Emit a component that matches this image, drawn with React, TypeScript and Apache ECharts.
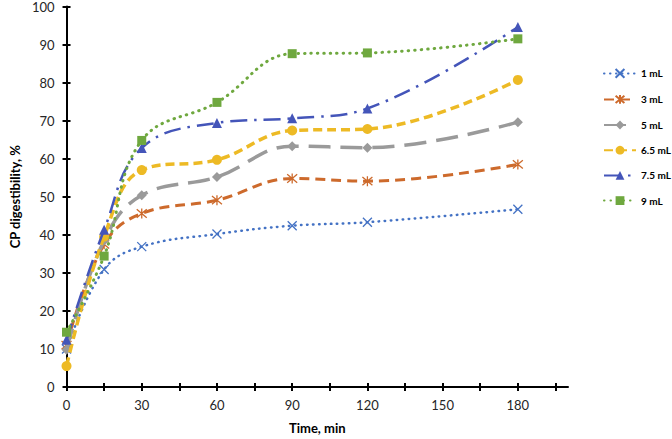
import React, { useEffect, useRef } from "react";
import * as echarts from "echarts";

const times = [0, 15, 30, 60, 90, 120, 180];
const seriesNames = ["1 mL", "3 mL", "5 mL", "6.5 mL", "7.5 mL", "9 mL"];
const v1 = [10.0, 30.9, 36.9, 40.2, 42.4, 43.3, 46.7];
const v3 = [11.0, 37.5, 45.6, 49.1, 54.8, 54.1, 58.5];
const v5 = [9.8, 38.5, 50.4, 55.2, 63.3, 62.9, 69.6];
const v65 = [5.5, 39.5, 57.0, 59.7, 67.4, 67.8, 80.7];
const v75 = [12.4, 41.3, 62.8, 69.4, 70.6, 73.2, 94.6];
const v9 = [14.4, 34.4, 64.8, 74.8, 87.6, 87.8, 91.5];
const xTickLabels = [0, 30, 60, 90, 120, 150, 180];
const xTicks = [0, 15, 30, 45, 60, 75, 90, 105, 120, 135, 150, 165, 180, 195];
const yTickLabels = [0, 10, 20, 30, 40, 50, 60, 70, 80, 90, 100];

const FONT = "Lato, 'Open Sans', sans-serif";
const X_PATH = "path://M0,0 L10,10 M10,0 L0,10";
const STAR_PATH = "path://M0,0 L10,10 M10,0 L0,10 M5,-1 L5,11";

export default function App() {
  const ref = useRef<HTMLDivElement>(null);
  useEffect(() => {
    if (!ref.current) return;
    const chart = echarts.init(ref.current, undefined, { renderer: "svg" });
    const allValues = [v1, v3, v5, v65, v75, v9];
    const styles = [
      { color: "#4472C4", dash: [0.5, 5.5], cap: "round", width: 2.5, symbol: X_PATH, size: 9, stroke: true },
      { color: "#CD6A2C", dash: [10, 6], cap: "butt", width: 3, symbol: STAR_PATH, size: 10, stroke: true },
      { color: "#9A9A9A", dash: [22, 10], cap: "butt", width: 3.5, symbol: "diamond", size: 10, stroke: false },
      { color: "#EDBA25", dash: [9, 5], cap: "butt", width: 3.5, symbol: "circle", size: 10, stroke: false },
      { color: "#4455B9", dash: [17, 7, 2.5, 7], cap: "butt", width: 2.5, symbol: "triangle", size: 10, stroke: false },
      { color: "#6FA83F", dash: [0.5, 6], cap: "round", width: 3, symbol: "rect", size: 9, stroke: false },
    ];
    const series = seriesNames.map((name, i) => {
      const s = styles[i];
      return {
        name,
        type: "line",
        xAxisIndex: 0,
        yAxisIndex: 0,
        data: times.map((t, j) => [t, allValues[i][j]]),
        smooth: 0.4,
        symbol: s.symbol,
        symbolSize: s.size,
        showSymbol: true,
        lineStyle: { color: s.color, width: s.width, type: s.dash, cap: s.cap },
        itemStyle: s.stroke
          ? { color: s.color, borderColor: s.color, borderWidth: 1.3 }
          : { color: s.color, borderWidth: 0 },
        z: 3 + i,
      };
    });
    chart.setOption({
      animation: false,
      backgroundColor: "#ffffff",
      textStyle: { fontFamily: FONT },
      grid: { left: 53, right: 104, top: 6, bottom: 49, containLabel: false },
      legend: {
        orient: "vertical",
        left: 603,
        top: 68,
        padding: 0,
        itemWidth: 32,
        itemHeight: 11,
        itemGap: 15.2,
        data: seriesNames,
        textStyle: { fontFamily: FONT, fontSize: 10, fontWeight: "bold", color: "#000" },
      },
      xAxis: [
        {
          type: "value",
          min: 0,
          max: 200,
          interval: 15,
          name: "Time, min",
          nameLocation: "middle",
          nameGap: 34,
          nameTextStyle: { fontFamily: FONT, fontSize: 13, fontWeight: "bold", color: "#000" },
          axisLine: { show: true, onZero: false, lineStyle: { color: "#000", width: 2 } },
          axisTick: { show: true, length: 4, lineStyle: { color: "#000", width: 2 }, customValues: xTicks },
          axisLabel: {
            fontFamily: FONT,
            fontSize: 13,
            color: "#262626",
            margin: 11,
            customValues: xTickLabels,
          },
          splitLine: { show: false },
        },
        {
          type: "value",
          min: 0,
          max: 200,
          interval: 15,
          position: "bottom",
          axisLine: { show: false },
          axisTick: { show: true, inside: true, length: 4, lineStyle: { color: "#000", width: 2 }, customValues: xTicks },
          axisLabel: { show: false },
          splitLine: { show: false },
        },
      ],
      yAxis: [
        {
          type: "value",
          min: 0,
          max: 100,
          interval: 10,
          name: "CP digestibility, %",
          nameLocation: "middle",
          nameGap: 32,
          nameTextStyle: { fontFamily: FONT, fontSize: 13, fontWeight: "bold", color: "#000" },
          axisLine: { show: true, onZero: false, lineStyle: { color: "#000", width: 2 } },
          axisTick: { show: true, length: 4, lineStyle: { color: "#000", width: 2 }, customValues: yTickLabels },
          axisLabel: { fontFamily: FONT, fontSize: 13, color: "#262626", margin: 12, customValues: yTickLabels },
          splitLine: { show: false },
        },
        {
          type: "value",
          min: 0,
          max: 100,
          interval: 10,
          position: "left",
          axisLine: { show: false },
          axisTick: { show: true, inside: true, length: 4, lineStyle: { color: "#000", width: 2 } },
          axisLabel: { show: false },
          splitLine: { show: false },
        },
      ],
      series,
    });
    return () => chart.dispose();
  }, []);
  return (
    <div
      ref={ref}
      style={{ position: "fixed", left: 0, top: 0, width: 672, height: 439, background: "#fff" }}
    />
  );
}
